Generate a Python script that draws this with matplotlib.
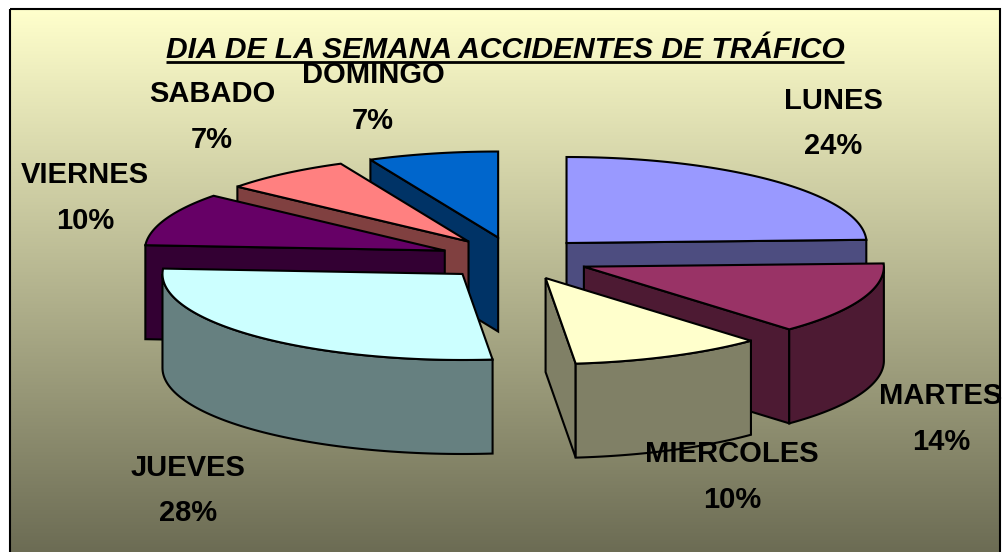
import numpy as np
import matplotlib.pyplot as plt
from matplotlib.patches import Polygon, Rectangle

plt.rcParams['font.family'] = ['Liberation Sans', 'DejaVu Sans']

days = ['LUNES', 'MARTES', 'MIERCOLES', 'JUEVES', 'VIERNES', 'SABADO', 'DOMINGO']
percents = [24.4, 13.6, 10.4, 27.6, 10, 7, 7]
explode = 0.25
top_colors = ['#9999FF', '#993366', '#FFFFCC', '#CCFFFF', '#660066', '#FF8080', '#0066CC']
side_colors = ['#4D4D80', '#4D1A33', '#808066', '#668080', '#330033', '#804040', '#003366']

# pie geometry in pixels of the picture
cx, cy = 514.5, 258.5
rx, ry = 300, 86
depth = 94
# back slices first, so the front ones cover them
draw_order = [0, 6, 5, 4, 1, 2, 3]

label_pos = {
    'LUNES': (833, 101, 146),
    'MARTES': (941, 396, 442),
    'MIERCOLES': (732, 454, 500),
    'JUEVES': (188, 468, 513),
    'VIERNES': (85, 175, 221),
    'SABADO': (212, 94, 140),
    'DOMINGO': (373, 75, 121),
}


def rim(t1, t2, x0, y0):
    t = np.radians(np.linspace(t1, t2, 80))
    return np.column_stack([x0 + rx * np.sin(t), y0 - ry * np.cos(t)])


def draw_slice(ax, t1, t2, top, side):
    mid = np.radians((t1 + t2) / 2)
    x0 = cx + explode * rx * np.sin(mid)
    y0 = cy - explode * ry * np.cos(mid)
    drop = np.array([0, depth])
    style = dict(edgecolor='black', linewidth=1.5, joinstyle='miter')
    a = np.array([x0, y0])

    # cut walls, only the ones turned to the viewer
    walls = []
    if np.sin(np.radians(t1)) < 0:
        walls.append(t1)
    if np.sin(np.radians(t2)) > 0:
        walls.append(t2)
    for t in walls:
        b = rim(t, t, x0, y0)[0]
        ax.add_patch(Polygon([a, b, b + drop, a + drop], facecolor=side, **style))
    # round wall, only the front half shows
    a1, a2 = max(t1, 90), min(t2, 270)
    if a2 > a1:
        edge = rim(a1, a2, x0, y0)
        ax.add_patch(Polygon(np.vstack([edge, edge[::-1] + drop]), facecolor=side, **style))
    # top face
    ax.add_patch(Polygon(np.vstack([a, rim(t1, t2, x0, y0)]), facecolor=top, **style))


fig = plt.figure(figsize=(10.03, 5.52), dpi=100)
ax = fig.add_axes([0, 0, 1, 1])
ax.axis('off')

# background gradient
c_top = np.array([255, 255, 204]) / 255
c_bot = np.array([108, 108, 84]) / 255
f = np.linspace(0, 1, 256)[:, None, None]
grad = (1 - f) * c_top + f * c_bot
ax.imshow(grad, extent=[11, 1000, 552, 9], aspect='auto', zorder=0)
ax.set_xlim(0, 1003)
ax.set_ylim(552, 0)
ax.add_patch(Rectangle((10.5, 9), 989.5, 560, fill=False, edgecolor='black', linewidth=1.5, zorder=1))

edges = np.cumsum([0] + percents) / sum(percents) * 360
for i in draw_order:
    draw_slice(ax, edges[i], edges[i + 1], top_colors[i], side_colors[i])

title = ax.text(505, 50, 'DIA DE LA SEMANA ACCIDENTES DE TRÁFICO', fontsize=21.6, fontweight='bold',
                fontstyle='italic', ha='center', va='center', zorder=5)
fig.canvas.draw()
bb = title.get_window_extent().transformed(ax.transData.inverted())
ax.plot([bb.x0, bb.x1], [62, 62], color='black', linewidth=2, solid_capstyle='butt', zorder=5)

for day, pct in zip(days, percents):
    x, y1, y2 = label_pos[day]
    ax.text(x, y1, day, fontsize=21, fontweight='bold', ha='center', va='center', zorder=6)
    ax.text(x, y2, f'{pct:.0f}%', fontsize=21, fontweight='bold', ha='center', va='center', zorder=6)

plt.savefig('out.png', dpi=100)
